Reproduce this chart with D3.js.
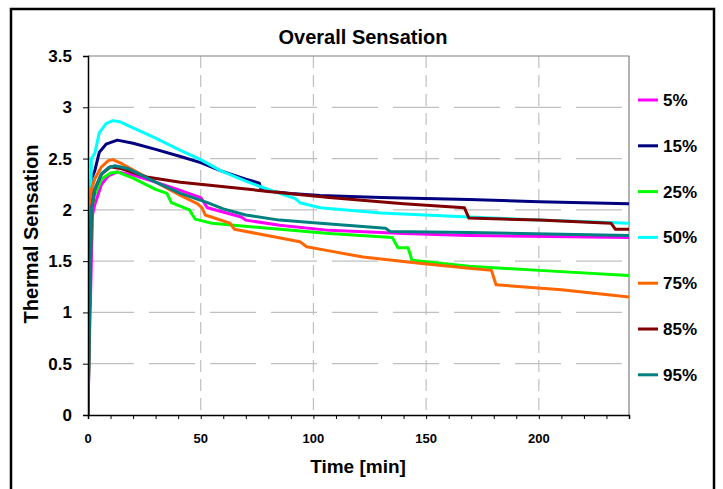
<!DOCTYPE html>
<html>
<head>
<meta charset="utf-8">
<script src="https://cdn.jsdelivr.net/npm/d3@7"></script>
<style>
  html, body { margin: 0; padding: 0; background: #fff; }
  svg { display: block; font-family: "Liberation Sans", Arial, sans-serif; font-weight: bold; }
</style>
</head>
<body>
<svg id="chart" width="723" height="489"></svg>
<script>
// Thermal sensation over time for each percentile group: [time (min), sensation]
const s5 = [[0,0],[0.5,0.6],[2,1.95],[3,2.05],[6,2.25],[9,2.33],[13,2.37],[20,2.34],[30,2.27],[41,2.19],[50,2.12],[53,2.02],[68,1.93],[70,1.90],[85,1.85],[107,1.80],[140,1.77],[169,1.75],[240,1.73]];
const s15 = [[0,0],[0.5,1.0],[1.5,2.3],[3,2.38],[5,2.56],[8,2.64],[13,2.68],[20,2.65],[30,2.59],[41,2.52],[50,2.46],[59,2.38],[70,2.30],[76,2.26],[77,2.19],[90,2.16],[103,2.14],[130,2.12],[169,2.10],[200,2.08],[240,2.06]];
const s25 = [[0,0],[0.5,0.7],[1.5,2.0],[3,2.15],[6,2.3],[10,2.36],[13,2.37],[20,2.31],[30,2.2],[35,2.16],[37,2.07],[45,2.0],[47.5,1.91],[55,1.87],[80,1.82],[107,1.77],[135,1.73],[137.5,1.63],[142,1.63],[143.7,1.51],[169,1.45],[200,1.41],[240,1.36]];
const s50 = [[0,0],[0.5,0.8],[1.5,2.5],[3,2.55],[5,2.75],[8,2.84],[11,2.87],[14,2.86],[20,2.8],[30,2.7],[41,2.58],[50,2.49],[59,2.38],[70,2.28],[76,2.23],[85,2.16],[92,2.11],[94,2.07],[103,2.02],[130,1.97],[169,1.93],[200,1.90],[240,1.87]];
const s75 = [[0,0],[0.5,0.8],[1.5,2.2],[3,2.3],[6,2.42],[9,2.48],[11,2.49],[15,2.45],[25,2.33],[41,2.14],[48.5,2.06],[50.6,2.02],[52,1.95],[63,1.87],[65,1.81],[79.5,1.75],[94,1.69],[97,1.64],[107,1.60],[122,1.54],[147,1.48],[169,1.43],[179,1.41],[181,1.27],[210,1.22],[240,1.15]];
const s85 = [[0,0],[0.5,0.8],[1.5,2.0],[3,2.2],[6,2.35],[10,2.42],[15,2.40],[26,2.32],[41,2.27],[54,2.24],[80,2.18],[107,2.12],[140,2.06],[167,2.02],[169,1.92],[200,1.90],[232,1.87],[234,1.81],[240,1.81]];
const s95 = [[0,0],[0.5,0.72],[1.5,2.0],[3,2.2],[6,2.35],[9,2.41],[12,2.43],[18,2.40],[30,2.27],[41,2.16],[53,2.07],[60,2.01],[70,1.95],[85,1.90],[103,1.87],[132,1.82],[134,1.79],[169,1.78],[240,1.75]];

const seriesNames = ["5%", "15%", "25%", "50%", "75%", "85%", "95%"];
const seriesData = [s5, s15, s25, s50, s75, s85, s95];
const seriesColors = ["#ff00ff", "#000080", "#00ff00", "#00ffff", "#ff6600", "#800000", "#008080"];

const xTicks = [0, 50, 100, 150, 200];
const xMinorTicks = d3.range(0, 241, 10);
const yTicks = [0, 0.5, 1, 1.5, 2, 2.5, 3, 3.5];

const svg = d3.select("#chart");
const plotLeft = 88, plotRight = 629, plotTop = 56, plotBottom = 415;

const x = d3.scaleLinear().domain([0, 240]).range([plotLeft, plotRight]);
const y = d3.scaleLinear().domain([0, 3.5]).range([plotBottom, plotTop]);

// outer frame
svg.append("rect")
  .attr("x", 11).attr("y", 9).attr("width", 703).attr("height", 500)
  .attr("fill", "none").attr("stroke", "#000").attr("stroke-width", 2.5);

// gridlines
svg.append("g").selectAll("line").data(yTicks.filter(d => d > 0 && d < 3.5)).join("line")
  .attr("x1", plotLeft).attr("x2", plotRight)
  .attr("y1", d => y(d)).attr("y2", d => y(d))
  .attr("stroke", "#c0c0c0").attr("stroke-width", 1.2)
  .attr("stroke-dasharray", "46,15");
svg.append("g").selectAll("line").data(xTicks.filter(d => d > 0)).join("line")
  .attr("x1", d => x(d)).attr("x2", d => x(d))
  .attr("y1", plotTop).attr("y2", plotBottom)
  .attr("stroke", "#c0c0c0").attr("stroke-width", 1.2)
  .attr("stroke-dasharray", "12,7");

// plot area border (top and right)
svg.append("path")
  .attr("d", `M${plotLeft},${plotTop}H${plotRight}V${plotBottom}`)
  .attr("fill", "none").attr("stroke", "#808080").attr("stroke-width", 1.2);

// series lines
svg.append("defs").append("clipPath").attr("id", "plotClip")
  .append("rect").attr("x", plotLeft).attr("y", plotTop - 2)
  .attr("width", plotRight - plotLeft).attr("height", plotBottom - plotTop + 2);

const line = d3.line().x(d => x(d[0])).y(d => y(d[1]));
svg.append("g").attr("clip-path", "url(#plotClip)")
  .selectAll("path").data(seriesData).join("path")
  .attr("d", line)
  .attr("fill", "none")
  .attr("stroke", (d, i) => seriesColors[i])
  .attr("stroke-width", 3)
  .attr("stroke-linejoin", "round");

// x axis
const xAxis = svg.append("g").attr("transform", `translate(0,${plotBottom})`)
  .call(d3.axisBottom(x).tickValues(xMinorTicks).tickSize(4).tickFormat(""));
xAxis.select(".domain").attr("stroke", "#000").attr("stroke-width", 1.5);
xAxis.selectAll(".tick line").attr("stroke", "#000").attr("stroke-width", 1);
svg.append("g").selectAll("text").data(xTicks).join("text")
  .attr("x", d => x(d)).attr("y", 443)
  .attr("text-anchor", "middle")
  .attr("font-size", 13)
  .text(d => d);

// y axis
const yAxis = svg.append("g").attr("transform", `translate(${plotLeft},0)`)
  .call(d3.axisLeft(y).tickValues(yTicks).tickSize(5).tickPadding(11).tickFormat(d3.format("")));
yAxis.attr("font-family", null).attr("font-size", 17);
yAxis.select(".domain").attr("stroke", "#000").attr("stroke-width", 1.5);
yAxis.selectAll(".tick line").attr("stroke", "#000").attr("stroke-width", 1);
yAxis.selectAll(".tick text").attr("fill", "#000");

// titles
svg.append("text").attr("x", 363).attr("y", 44).attr("text-anchor", "middle")
  .attr("font-size", 20).text("Overall Sensation");
svg.append("text").attr("x", 358).attr("y", 473).attr("text-anchor", "middle")
  .attr("font-size", 19).text("Time [min]");
svg.append("text").attr("transform", "translate(38,234) rotate(-90)").attr("text-anchor", "middle")
  .attr("font-size", 20).text("Thermal Sensation");

// legend
const legend = svg.append("g").selectAll("g").data(seriesNames).join("g")
  .attr("transform", (d, i) => `translate(638,${100 + i * 45.8})`);
legend.append("line").attr("x1", 0).attr("x2", 20).attr("y1", 0).attr("y2", 0)
  .attr("stroke", (d, i) => seriesColors[i]).attr("stroke-width", 3);
legend.append("text").attr("x", 25).attr("y", 6).attr("font-size", 17).text(d => d);
</script>
</body>
</html>
